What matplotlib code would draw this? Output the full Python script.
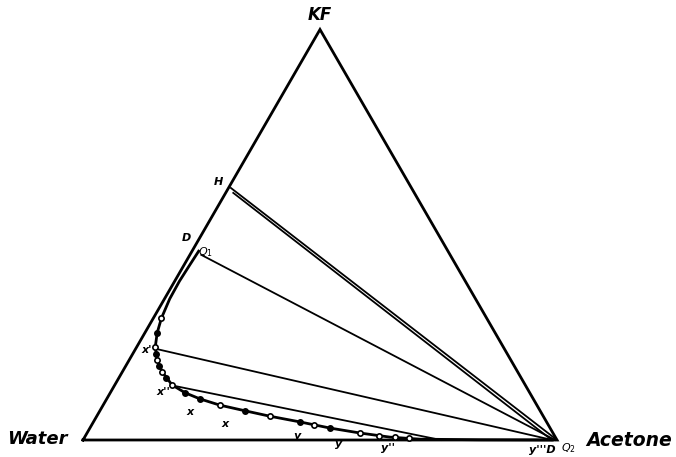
import numpy as np
import matplotlib
matplotlib.use("Agg")
import matplotlib.pyplot as plt

# compositions in weight percent : (KF, acetone), water = rest
corner_names = ["Water", "Acetone", "KF"]

# binodal curve (water-rich branch along the KF-water side, then acetone-rich branch along the base)
curve_kf = [46.0, 42.6, 38.7, 34.4, 29.7, 26.1, 22.7, 19.5, 16.6, 13.4, 11.5, 10.0,
            8.5, 7.1, 5.8, 4.4, 2.9, 1.7, 0.7, 0.2, 0.05, 0.0]
curve_ac = [1.4, 1.2, 1.0, 1.1, 1.7, 2.6, 3.9, 5.9, 8.4, 12.1, 15.8, 19.7,
            24.6, 30.7, 36.5, 43.6, 50.7, 57.6, 64.4, 71.0, 83.7, 99.0]
# experimental points on the curve (circles)
pts_kf = [29.7, 26.1, 22.7, 21.0, 19.5, 18.0, 16.6, 15.0, 13.4, 11.5, 10.0, 8.5, 7.1,
          5.8, 4.4, 3.6, 2.9, 1.7, 1.0, 0.7, 0.4]
pts_ac = [1.7, 2.6, 3.9, 4.8, 5.9, 7.1, 8.4, 10.1, 12.1, 15.8, 19.7, 24.6, 30.7,
          36.5, 43.6, 47.0, 50.7, 57.6, 62.0, 65.5, 68.5]
pts_filled = [0, 1, 0, 1, 0, 1, 0, 1, 0, 1, 1, 0, 1, 0, 1, 0, 1, 0, 0, 0, 0]

# tie lines : left end (KF, acetone) -> right end (KF, acetone)
tie_left_kf = [61.4, 60.2, 45.1, 22.2, 13.2]
tie_left_ac = [0.5, 1.6, 2.4, 4.3, 12.6]
tie_right_kf = [0.0, 0.0, 0.0, 0.0, 0.0]
tie_right_ac = [100.0, 98.9, 99.6, 99.0, 75.5]

# labelled points
lab_text = ["H", "D", "$Q_1$", "x'", "x''", "x", "x", "y", "y", "y''", "y'''D", "$Q_2$"]
lab_kf = [61.4, 46.5, 45.1, 22.7, 13.4, 11.0, 8.0, 4.4, 2.0, 0.7, 0.0, 0.0]
lab_ac = [0.0, 0.0, 2.4, 3.9, 12.1, 17.0, 26.0, 43.6, 53.0, 64.0, 97.0, 100.0]
lab_dx = [-7, -5, 3, -6, -6, 0, 0, -2, 0, 0, 0, 8]
lab_dy = [4, 8, 2, -2, -5, -12, -12, -10, -9, -8, -7, -6]


def tern(kf, ac):
    kf = np.asarray(kf, dtype=float) / 100.0
    ac = np.asarray(ac, dtype=float) / 100.0
    return ac + kf / 2.0, kf * np.sqrt(3) / 2.0


fig = plt.figure(figsize=(6.76, 4.57), dpi=100)
ax = fig.add_axes([0, 0, 1, 1])
ax.set_xlim(-83 / 474, 593 / 474)
ax.set_ylim(-17 / 474, 440 / 474)
ax.axis("off")

# triangle
tx, ty = tern([0, 0, 100, 0], [0, 100, 0, 0])
ax.plot(tx, ty, color="black", lw=2.0, solid_joinstyle="miter")

# tie lines
for i in range(len(tie_left_kf)):
    x, y = tern([tie_left_kf[i], tie_right_kf[i]], [tie_left_ac[i], tie_right_ac[i]])
    ax.plot(x, y, color="black", lw=1.3)

# binodal curve
cx, cy = tern(curve_kf, curve_ac)
ax.plot(cx, cy, color="black", lw=2.0)
px, py = tern(pts_kf, pts_ac)
for i in range(len(px)):
    fc = "black" if pts_filled[i] else "white"
    ax.plot(px[i], py[i], "o", ms=3.8, mfc=fc, mec="black", mew=1.2)

font = dict(style="italic", fontweight="bold", color="black")

# corner names
wx, wy = tern(0, 0)
ax.annotate(corner_names[0], (wx, wy), xytext=(-11, 1), textcoords="offset points",
            ha="right", va="center", fontsize=13, **font)
ax_, ay_ = tern(0, 100)
ax.annotate(corner_names[1], (ax_, ay_), xytext=(21, 0), textcoords="offset points",
            ha="left", va="center", fontsize=13.5, **font)
kx, ky = tern(100, 0)
ax.annotate(corner_names[2], (kx, ky), xytext=(0, 4), textcoords="offset points",
            ha="center", va="bottom", fontsize=12, **font)

# point labels
for i, t in enumerate(lab_text):
    x, y = tern(lab_kf[i], lab_ac[i])
    ax.annotate(t, (x, y), xytext=(lab_dx[i], lab_dy[i]), textcoords="offset points",
                ha="center", va="center", fontsize=8, **font)

fig.savefig("out.png", dpi=100, facecolor="white")
